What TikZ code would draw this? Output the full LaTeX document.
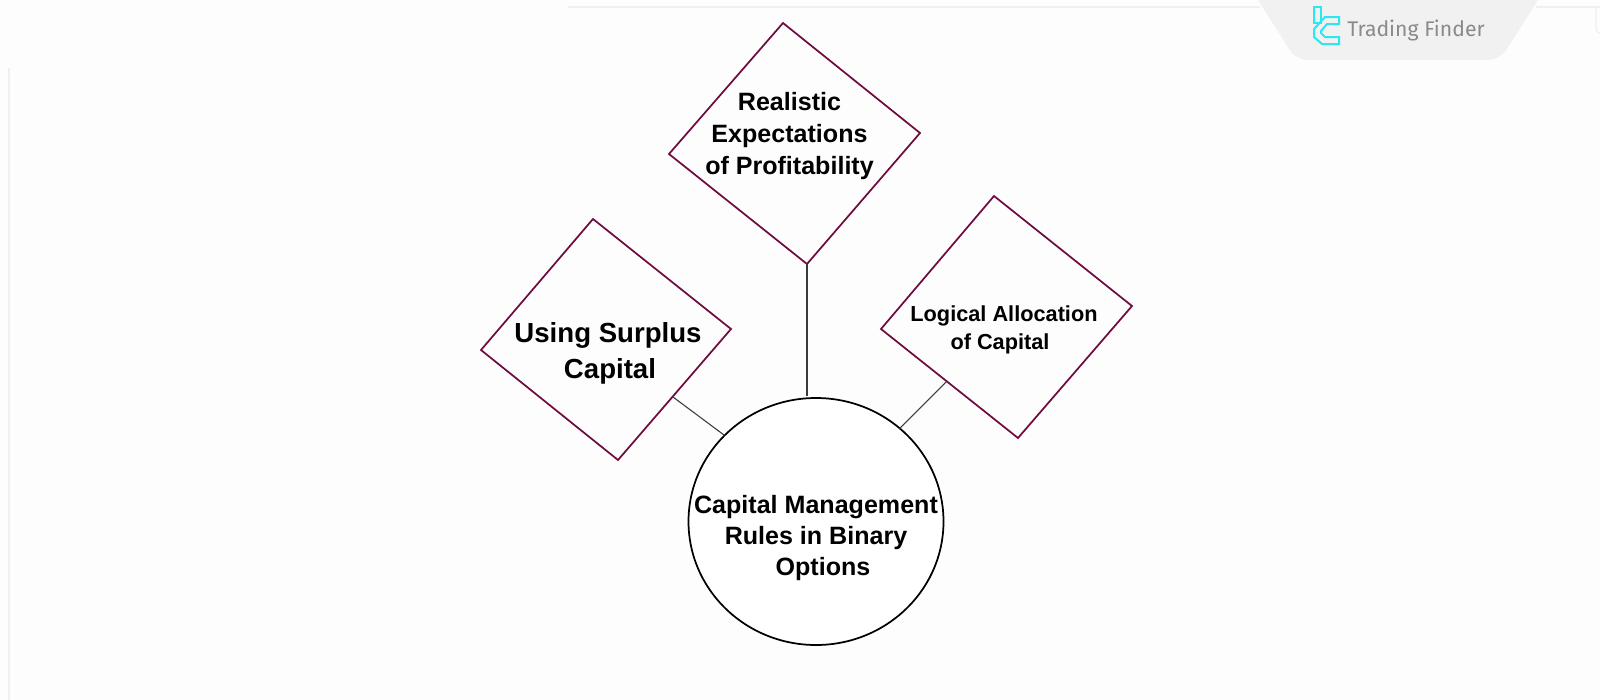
\documentclass[tikz,border=0pt]{standalone}
\usepackage{fontspec}
\setmainfont{Liberation Sans}
\newfontfamily\logofont{Fira Sans}
\definecolor{bgc}{HTML}{FDFDFD}
\definecolor{plum}{HTML}{6E0B3F}
\definecolor{conn}{HTML}{3A3A3A}
\definecolor{tabc}{HTML}{F1F1F1}
\definecolor{edgec}{HTML}{F0F0F0}
\definecolor{cyanlogo}{HTML}{2CE6F0}
\definecolor{logotext}{HTML}{8A8A8A}
\tikzset{
  x=0.75pt,y=-0.75pt,
  diamondline/.style={draw=plum,line width=1.3pt,line join=miter},
  link/.style={draw=conn,line width=0.8pt},
  big/.style={font=\bfseries\fontsize{20.7}{27}\selectfont,align=center,text=black,inner sep=0pt},
  mid/.style={font=\bfseries\fontsize{18.8}{24}\selectfont,align=center,text=black,inner sep=0pt},
  hubtext/.style={font=\bfseries\fontsize{18.8}{23}\selectfont,align=center,text=black,inner sep=0pt},
  small/.style={font=\bfseries\fontsize{16.3}{21.5}\selectfont,align=center,text=black,inner sep=0pt},
  faint/.style={draw=edgec,line width=0.9pt},
  logoline/.style={draw=cyanlogo,line width=1.5pt,line join=miter}
}
\begin{document}
\begin{tikzpicture}
\path[use as bounding box,fill=bgc] (0,0) rectangle (1600,700);
% page edges
\draw[faint] (568,7) -- (1260,7);
\draw[faint] (1536,7) -- (1600,7);
\draw[faint] (9,68) -- (9,700);
\draw[faint,rounded corners=3pt] (1596,7) -- (1596,33) -- (1600,33);
% logo tab
\begin{scope}
\clip (1200,0) rectangle (1600,70);
\fill[tabc,rounded corners=9pt] (1250.5,-12) -- (1296,60) -- (1500,60) -- (1545.5,-12) -- cycle;
\end{scope}
\draw[logoline] (1314,7) -- (1320.5,7) -- (1320.5,23) -- (1314,23) -- cycle;
\draw[logoline] (1339,17) -- (1325,17) -- (1314,29) -- (1314,37) -- (1322,44) -- (1339,44) -- (1339,37) -- (1325,37) -- (1321,33) -- (1321,31) -- (1327,24) -- (1339,24) -- cycle;
\node[font=\logofont\fontsize{15.9}{18}\selectfont,text=logotext,inner sep=0pt] (logo) at (1416,30) {Trading Finder};
% diamonds
\coordinate (ta) at (783,23); \coordinate (tb) at (920,133); \coordinate (tc) at (807,264); \coordinate (td) at (669,154);
\coordinate (la) at (593,219); \coordinate (lb) at (731,329); \coordinate (lc) at (618,460); \coordinate (ld) at (481,350);
\coordinate (ra) at (994,196); \coordinate (rb) at (1132,306); \coordinate (rc) at (1018,438); \coordinate (rd) at (881,329);
\draw[diamondline] (ta) -- (tb) -- (tc) -- (td) -- cycle;
\draw[diamondline] (la) -- (lb) -- (lc) -- (ld) -- cycle;
\draw[diamondline] (ra) -- (rb) -- (rc) -- (rd) -- cycle;
% hub
\draw[black,line width=1.3pt,fill=white] (816,521.5) ellipse [x radius=127.5,y radius=123.5];
\node[hubtext] (hubt) at (816,538) {Capital Management\\Rules in Binary\\\ \ Options};
\node[mid] (tt) at (789.5,136) {Realistic\\Expectations\\of Profitability};
\node[big] (lt) at (608,353.5) {Using Surplus\\\hspace*{3pt}Capital};
\node[small] (rt) at (1004,330) {Logical Allocation\\\hspace*{-6pt}of Capital};
% connectors
\coordinate (c1) at (807,396);
\coordinate (c2) at (673,397); \coordinate (c3) at (724,435);
\coordinate (c4) at (947,381); \coordinate (c5) at (899,429);
\draw[link] (tc) -- (c1);
\draw[link] (c2) -- (c3);
\draw[link] (c4) -- (c5);
\end{tikzpicture}
\end{document}
